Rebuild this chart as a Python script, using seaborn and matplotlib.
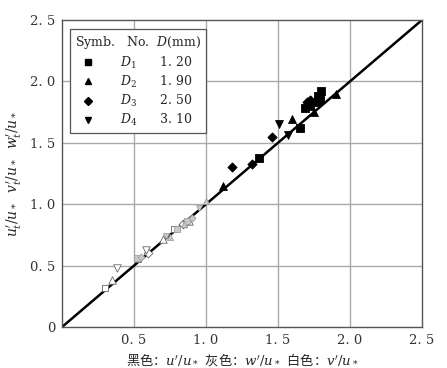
import numpy as np
import pandas as pd
import matplotlib
matplotlib.use("Agg")
import matplotlib.pyplot as plt
import seaborn as sns
from matplotlib.lines import Line2D

sns.set_style("white")
plt.rcParams['font.family'] = ['DejaVu Serif', 'Noto Sans CJK SC']
plt.rcParams['mathtext.fontset'] = 'dejavuserif'

# black: u'/u*  (x, y) per diameter
u_D1_x = [1.37, 1.65, 1.69, 1.72, 1.77, 1.79, 1.80, 1.78]
u_D1_y = [1.38, 1.62, 1.78, 1.80, 1.83, 1.86, 1.92, 1.88]
u_D2_x = [1.12, 1.60, 1.75, 1.73, 1.90]
u_D2_y = [1.15, 1.69, 1.75, 1.85, 1.90]
u_D3_x = [1.18, 1.32, 1.46, 1.70, 1.72]
u_D3_y = [1.30, 1.33, 1.55, 1.83, 1.85]
u_D4_x = [1.51, 1.57, 1.78]
u_D4_y = [1.65, 1.56, 1.84]
# gray: w'/u*
w_D1_x = [0.52, 0.80, 0.87]
w_D1_y = [0.56, 0.80, 0.86]
w_D2_x = [0.75, 0.85, 1.00]
w_D2_y = [0.73, 0.84, 1.03]
w_D3_x = [0.55, 0.90]
w_D3_y = [0.57, 0.89]
w_D4_x = [0.72, 0.95]
w_D4_y = [0.74, 0.97]
# white: v'/u*
v_D1_x = [0.30, 0.53, 0.78]
v_D1_y = [0.32, 0.55, 0.80]
v_D2_x = [0.35, 0.70, 0.88]
v_D2_y = [0.38, 0.72, 0.86]
v_D3_x = [0.60, 0.84]
v_D3_y = [0.60, 0.84]
v_D4_x = [0.38, 0.58, 0.86]
v_D4_y = [0.48, 0.63, 0.84]

diam_labels = ["$D_1$", "$D_2$", "$D_3$", "$D_4$"]
diam_values = ["1. 20", "1. 90", "2. 50", "3. 10"]
tick_vals = [0.5, 1.0, 1.5, 2.0, 2.5]
xtick_labels = ["0. 5", "1. 0", "1. 5", "2. 0", "2. 5"]
ytick_vals = [0, 0.5, 1.0, 1.5, 2.0, 2.5]
ytick_labels = ["0", "0. 5", "1. 0", "1. 5", "2. 0", "2. 5"]

rows = []
series = {
    "u": [(u_D1_x, u_D1_y), (u_D2_x, u_D2_y), (u_D3_x, u_D3_y), (u_D4_x, u_D4_y)],
    "w": [(w_D1_x, w_D1_y), (w_D2_x, w_D2_y), (w_D3_x, w_D3_y), (w_D4_x, w_D4_y)],
    "v": [(v_D1_x, v_D1_y), (v_D2_x, v_D2_y), (v_D3_x, v_D3_y), (v_D4_x, v_D4_y)],
}
for comp, lst in series.items():
    for i, (xs, ys) in enumerate(lst):
        for x, y in zip(xs, ys):
            rows.append(dict(x=x, y=y, comp=comp, D=f"D{i+1}"))
df = pd.DataFrame(rows)

markers = {"D1": "s", "D2": "^", "D3": "D", "D4": "v"}
sizes = {"D1": 28, "D2": 32, "D3": 22, "D4": 32}
scale = {"u": 1.0, "w": 0.6, "v": 0.9}
fills = {"u": "black", "w": "#c8c8c8", "v": "white"}
edges = {"u": "black", "w": "#a0a0a0", "v": "#666666"}

fig = plt.figure(figsize=(4.47, 3.68), dpi=100)
ax = fig.add_axes([62/447, 1-327/368, (422-62)/447, (327-20)/368])

for v in [0.5, 1.0, 1.5, 2.0]:
    ax.axvline(v, color="#aaaaaa", lw=1.0, zorder=0)
    ax.axhline(v, color="#aaaaaa", lw=1.0, zorder=0)

ax.plot([0, 2.5], [0, 2.5], color="black", lw=1.8, zorder=2)

for (comp, d), sub in df.groupby(["comp", "D"]):
    sns.scatterplot(data=sub, x="x", y="y", marker=markers[d], s=sizes[d] * scale[comp],
                    color=fills[comp], edgecolor=edges[comp], linewidth=0.6,
                    ax=ax, zorder=3, legend=False)

ax.set_xlim(0, 2.5)
ax.set_ylim(0, 2.5)
ax.set_xticks(tick_vals)
ax.set_xticklabels(xtick_labels)
ax.set_yticks(ytick_vals)
ax.set_yticklabels(ytick_labels)
ax.tick_params(direction="out", length=3, width=0.8, labelsize=9.5, colors="#333333", pad=2)
for s in ax.spines.values():
    s.set_color("#555555")
    s.set_linewidth(1.0)

ax.set_xlabel("黑色：$u'/u_*$  灰色：$w'/u_*$  白色：$v'/u_*$", fontsize=9.5,
              family=['Noto Sans CJK SC', 'DejaVu Serif'], labelpad=3)
ax.set_ylabel("$u_t'/u_*\\ \\ v_t'/u_*\\ \\ w_t'/u_*$", fontsize=10, labelpad=4)

# legend
handles = [Line2D([], [], ls="none", marker=markers[f"D{i+1}"], color="black",
                  markersize=5 if i != 2 else 4.5) for i in range(4)]
labels = [f"{diam_labels[i]}      {diam_values[i]}" for i in range(4)]
leg = ax.legend(handles, labels, title="Symb.   No.  $D$(mm)", loc="upper left",
                bbox_to_anchor=(0.005, 0.99), frameon=True, fancybox=False,
                fontsize=9, title_fontsize=9, handlelength=2.0, handletextpad=1.6,
                borderpad=0.4, labelspacing=0.25, framealpha=1)
leg.get_frame().set_edgecolor("#555555")
leg.get_frame().set_linewidth(0.9)
leg._legend_box.align = "left"

fig.savefig("out.png", dpi=100)
